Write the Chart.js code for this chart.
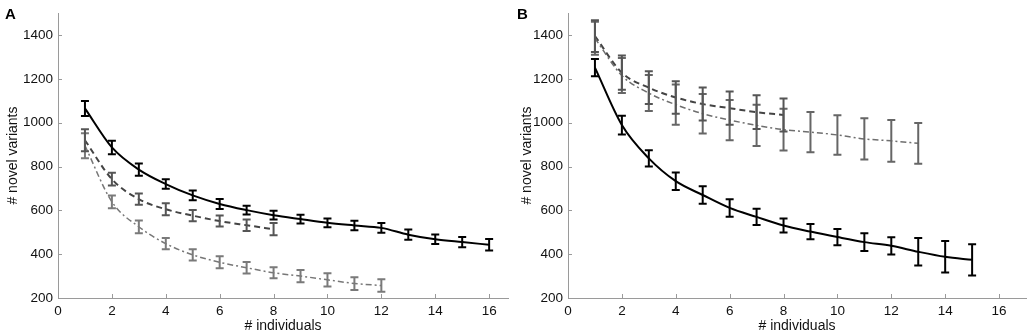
<!DOCTYPE html>
<html lang="en">
<head>
    <meta charset="UTF-8">
    <title>Novel variants vs individuals</title>
    <script src="https://cdn.jsdelivr.net/npm/chart.js"></script>
    <style>
        body {
            margin: 0;
            padding: 0;
            background: #ffffff;
            font-family: 'Liberation Sans', Arial, sans-serif;
        }
        .panel {
            position: absolute;
            top: 0;
            width: 514px;
            height: 333px;
        }
        #panelA { left: 0; }
        #panelB { left: 514px; }
        .letter {
            position: absolute;
            top: 5px;
            font-weight: bold;
            font-size: 15px;
            color: #000;
        }
    </style>
</head>
<body>
    <div class="panel" id="panelA"><canvas id="chartA"></canvas></div>
    <div class="panel" id="panelB"><canvas id="chartB"></canvas></div>
    <div class="letter" style="left:5px;">A</div>
    <div class="letter" style="left:517px;">B</div>

    <script>
        // axis ticks (shared by both panels)
        const xTicks = [0, 2, 4, 6, 8, 10, 12, 14, 16];
        const yTicks = [200, 400, 600, 800, 1000, 1200, 1400];

        // Panel A
        const solidA_x = [1, 2, 3, 4, 5, 6, 7, 8, 9, 10, 11, 12, 13, 14, 15, 16];
        const solidA = [1065, 887, 786, 720, 668, 629, 601, 578, 560, 543, 531, 520, 489, 468, 455, 443];
        const solidA_err = [34, 31, 28, 22, 22, 23, 20, 20, 20, 20, 22, 22, 23, 22, 23, 26];
        const dashedA_x = [1, 2, 3, 4, 5, 6, 7, 8];
        const dashedA = [920, 742, 651, 605, 576, 551, 532, 514];
        const dashedA_err = [50, 29, 26, 27, 26, 25, 26, 28];
        const dotdashA_x = [1, 2, 3, 4, 5, 6, 7, 8, 9, 10, 11, 12];
        const dotdashA = [895, 639, 525, 448, 397, 363, 338, 315, 300, 283, 266, 257];
        const dotdashA_err = [57, 29, 29, 26, 26, 27, 26, 25, 28, 30, 29, 28];

        // Panel B
        const solidB_x = [1, 2, 3, 4, 5, 6, 7, 8, 9, 10, 11, 12, 13, 14, 15];
        const solidB = [1251, 989, 837, 733, 670, 611, 570, 531, 503, 478, 455, 438, 411, 388, 374];
        const solidB_err = [39, 43, 37, 40, 40, 40, 37, 32, 35, 37, 40, 39, 63, 72, 71];
        const dashedB_x = [1, 2, 3, 4, 5, 6, 7, 8];
        const dashedB = [1395, 1228, 1160, 1115, 1085, 1066, 1048, 1035];
        const dashedB_err = [72, 78, 75, 74, 75, 76, 77, 75];
        const dotdashB_x = [1, 2, 3, 4, 5, 6, 7, 8, 9, 10, 11, 12, 13];
        const dotdashB = [1385, 1215, 1135, 1082, 1041, 1012, 988, 968, 957, 944, 926, 917, 906];
        const dotdashB_err = [75, 80, 82, 92, 90, 92, 94, 95, 92, 90, 94, 95, 93];

        const FONT = "'Liberation Sans', Arial, sans-serif";

        function pts(xs, ys) {
            return xs.map((x, i) => ({ x: x, y: ys[i] }));
        }

        function series(xs, ys, errs, color, dash, width, barColor) {
            return {
                data: pts(xs, ys),
                errors: errs,
                barColor: barColor || color,
                borderColor: color,
                borderWidth: width,
                borderDash: dash,
                pointRadius: 0,
                fill: false,
                cubicInterpolationMode: 'monotone'
            };
        }

        // error bars drawn through the chart scales
        const errorBars = {
            id: 'errorBars',
            afterDatasetsDraw(chart) {
                const c = chart.ctx;
                const xs = chart.scales.x, ys = chart.scales.y;
                chart.data.datasets.forEach(ds => {
                    c.save();
                    c.strokeStyle = ds.barColor;
                    c.lineWidth = 2;
                    c.setLineDash([]);
                    ds.data.forEach((p, i) => {
                        const e = ds.errors[i];
                        const px = xs.getPixelForValue(p.x);
                        const top = ys.getPixelForValue(p.y + e);
                        const bot = ys.getPixelForValue(p.y - e);
                        c.beginPath();
                        c.moveTo(px, top); c.lineTo(px, bot);
                        c.moveTo(px - 4, top); c.lineTo(px + 4, top);
                        c.moveTo(px - 4, bot); c.lineTo(px + 4, bot);
                        c.stroke();
                    });
                    c.restore();
                });
            }
        };

        // small inward tick marks like the original
        const innerTicks = {
            id: 'innerTicks',
            afterDraw(chart) {
                const c = chart.ctx;
                const xs = chart.scales.x, ys = chart.scales.y;
                c.save();
                c.strokeStyle = '#9a9a9a';
                c.lineWidth = 1;
                xs.ticks.forEach(t => {
                    const px = Math.round(xs.getPixelForValue(t.value)) + 0.5;
                    c.beginPath();
                    c.moveTo(px, xs.top); c.lineTo(px, xs.top - 4);
                    c.stroke();
                });
                ys.ticks.forEach(t => {
                    const py = Math.round(ys.getPixelForValue(t.value)) + 0.5;
                    c.beginPath();
                    c.moveTo(ys.right, py); c.lineTo(ys.right + 4, py);
                    c.stroke();
                });
                c.restore();
            }
        };

        function makeChart(id, datasets, xMax, yWidth, padRight) {
            return new Chart(document.getElementById(id), {
                type: 'line',
                data: { datasets: datasets },
                options: {
                    responsive: true,
                    maintainAspectRatio: false,
                    animation: false,
                    layout: { padding: { top: 3, right: padRight, left: 0, bottom: 0 } },
                    plugins: { legend: { display: false }, tooltip: { enabled: false } },
                    scales: {
                        x: {
                            type: 'linear',
                            min: 0,
                            max: xMax,
                            afterBuildTicks: s => { s.ticks = xTicks.map(v => ({ value: v })); },
                            afterFit: s => { s.height = 35; },
                            grid: { display: false, drawTicks: false },
                            border: { display: true, color: '#9a9a9a', width: 1 },
                            ticks: {
                                padding: 5, color: '#111', maxRotation: 0,
                                font: { family: FONT, size: 13.5 },
                                callback: v => String(v)
                            },
                            title: {
                                display: true, text: '# individuals', color: '#111',
                                font: { family: FONT, size: 14 }, padding: { top: 0, bottom: -2 }
                            }
                        },
                        y: {
                            min: 200,
                            max: 1500,
                            afterBuildTicks: s => { s.ticks = yTicks.map(v => ({ value: v })); },
                            afterFit: s => { s.width = yWidth; },
                            grid: { display: false, drawTicks: false },
                            border: { display: true, color: '#9a9a9a', width: 1 },
                            ticks: {
                                padding: 5, color: '#111',
                                font: { family: FONT, size: 13.5 },
                                callback: v => String(v)
                            },
                            title: {
                                display: true, text: '# novel variants', color: '#111',
                                font: { family: FONT, size: 14 }, padding: { top: 5, bottom: 0 }
                            }
                        }
                    }
                },
                plugins: [errorBars, innerTicks]
            });
        }

        makeChart('chartA', [
            series(dotdashA_x, dotdashA, dotdashA_err, '#777777', [6, 3, 2, 3], 1.5, '#7a7a7a'),
            series(dashedA_x, dashedA, dashedA_err, '#444444', [6, 4], 2, '#555555'),
            series(solidA_x, solidA, solidA_err, '#000000', [], 2, '#000000')
        ], 16.7, 58, 6);

        makeChart('chartB', [
            series(dotdashB_x, dotdashB, dotdashB_err, '#6e6e6e', [6, 3, 2, 3], 1.5, '#666666'),
            series(dashedB_x, dashedB, dashedB_err, '#444444', [6, 4], 2, '#555555'),
            series(solidB_x, solidB, solidB_err, '#000000', [], 2, '#000000')
        ], 17, 54, 2);
    </script>
</body>
</html>
